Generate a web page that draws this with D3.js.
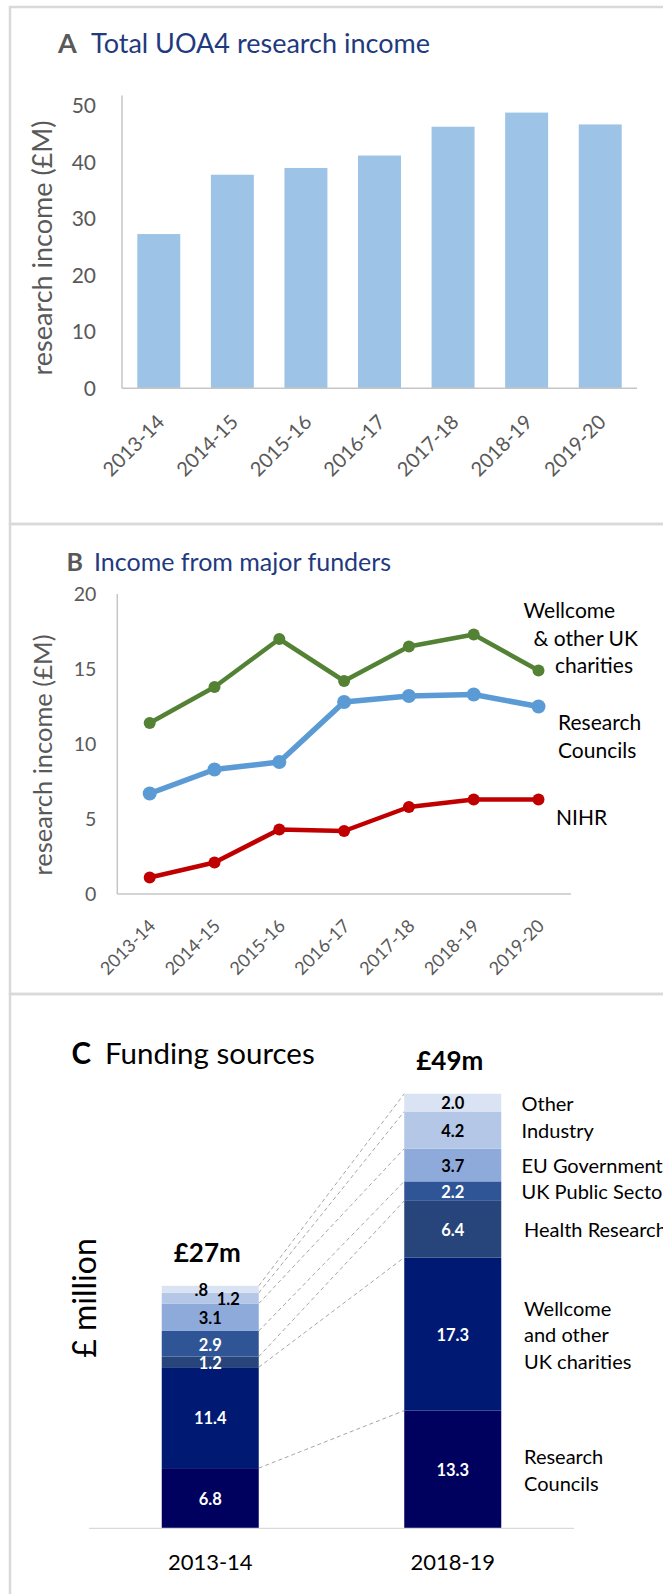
<!DOCTYPE html>
<html>
<head>
<meta charset="utf-8">
<script src="https://cdnjs.cloudflare.com/ajax/libs/d3/7.8.5/d3.min.js"></script>
<style>
  body { margin: 0; background: #fff; }
  svg { display: block; font-family: Lato, "Carlito", Calibri, sans-serif; }
</style>
</head>
<body>
<script>
// ---- data ----
const years = ["2013-14", "2014-15", "2015-16", "2016-17", "2017-18", "2018-19", "2019-20"];

// A: total UOA4 income (£M)
const totalIncome = [27.3, 37.8, 39.0, 41.2, 46.3, 48.8, 46.7];
const ticksA = [0, 10, 20, 30, 40, 50];

// B: income from major funders (£M)
const wellcome = [11.4, 13.8, 17.0, 14.2, 16.5, 17.3, 14.9];
const councils = [6.7, 8.3, 8.8, 12.8, 13.2, 13.3, 12.5];
const nihr = [1.1, 2.1, 4.3, 4.2, 5.8, 6.3, 6.3];
const ticksB = [0, 5, 10, 15, 20];

// C: funding sources, bottom to top
const sources = ["Research Councils", "Wellcome and other UK charities", "Health Research",
  "UK Public Sector", "EU Government", "Industry", "Other"];
const sourceLines = [["Research", "Councils"], ["Wellcome", "and other", "UK charities"],
  ["Health Research"], ["UK Public Sector"], ["EU Government"], ["Industry"], ["Other"]];
const periods = ["2013-14", "2018-19"];
const funding1314 = [6.8, 11.4, 1.2, 2.9, 3.1, 1.2, 0.8];
const funding1819 = [13.3, 17.3, 6.4, 2.2, 3.7, 4.2, 2.0];
const totals = ["£27m", "£49m"];

const W = 663, H = 1594;
const svg = d3.select("body").append("svg")
  .attr("width", W)
  .attr("height", H);

// panel frames
[[7, 517], [524, 470], [994, 640]].forEach(([y, h]) => {
  svg.append("rect")
    .attr("x", 10).attr("y", y)
    .attr("width", 700).attr("height", h)
    .attr("fill", "none")
    .attr("stroke", "#d9d9d9")
    .attr("stroke-width", 2.5);
});

const grey = "#595959";
const axisGrey = "#c6c6c6";

// ================= Panel A =================
const gA = svg.append("g");

const titleA = gA.append("text").attr("y", 53).style("font-size", "27px");
titleA.append("tspan").attr("x", 58).attr("fill", grey).style("font-weight", "bold").text("A");
titleA.append("tspan").attr("x", 91).attr("fill", "#1f3a7e").text("Total UOA4 research income");

const xA = d3.scaleBand()
  .domain(years)
  .range([122, 637])
  .paddingInner(0.416)
  .paddingOuter(0.208);

const yA = d3.scaleLinear()
  .domain([0, 50])
  .range([388.3, 105.8]);

gA.selectAll(".barA")
  .data(totalIncome)
  .enter()
  .append("rect")
  .attr("class", "barA")
  .attr("x", (d, i) => xA(years[i]))
  .attr("y", d => yA(d))
  .attr("width", xA.bandwidth())
  .attr("height", d => yA(0) - yA(d))
  .attr("fill", "#9dc3e6");

// axes lines
gA.append("line")
  .attr("x1", 122).attr("x2", 122)
  .attr("y1", 95.6).attr("y2", yA(0))
  .attr("stroke", axisGrey).attr("stroke-width", 1.5);
gA.append("line")
  .attr("x1", 122).attr("x2", 637)
  .attr("y1", yA(0)).attr("y2", yA(0))
  .attr("stroke", axisGrey).attr("stroke-width", 1.5);

const axA = gA.append("g")
  .attr("transform", "translate(122,0)")
  .call(d3.axisLeft(yA).tickValues(ticksA).tickSize(0).tickPadding(26));
axA.select(".domain").remove();
axA.selectAll("text")
  .attr("fill", grey)
  .style("font-size", "21px")
  .style("font-family", "Lato, sans-serif");

gA.selectAll(".xlabA")
  .data(years)
  .enter()
  .append("text")
  .attr("class", "xlabA")
  .attr("transform", d => `translate(${xA(d) + xA.bandwidth() / 2 + 7},${yA(0) + 35}) rotate(-45)`)
  .attr("text-anchor", "end")
  .attr("fill", grey)
  .style("font-size", "20px")
  .text(d => d);

gA.append("text")
  .attr("transform", "translate(41,248) rotate(-90)")
  .attr("text-anchor", "middle")
  .attr("dominant-baseline", "central")
  .attr("fill", grey)
  .style("font-size", "27px")
  .text("research income (£M)");

// ================= Panel B =================
const gB = svg.append("g");

const titleB = gB.append("text").attr("y", 570.5).style("font-size", "25px");
titleB.append("tspan").attr("x", 66.5).attr("fill", grey).style("font-weight", "bold").text("B");
titleB.append("tspan").attr("x", 94).attr("fill", "#1f3a7e").text("Income from major funders");

const xB = d3.scalePoint()
  .domain(years)
  .range([117.3, 570.9])
  .padding(0.5);

const yB = d3.scaleLinear()
  .domain([0, 20])
  .range([894, 594]);

gB.append("line")
  .attr("x1", 117.3).attr("x2", 117.3)
  .attr("y1", 594).attr("y2", 894)
  .attr("stroke", axisGrey).attr("stroke-width", 1.5);
gB.append("line")
  .attr("x1", 117.3).attr("x2", 570.9)
  .attr("y1", 894).attr("y2", 894)
  .attr("stroke", axisGrey).attr("stroke-width", 1.5);

const axB = gB.append("g")
  .attr("transform", "translate(117.3,0)")
  .call(d3.axisLeft(yB).tickValues(ticksB).tickSize(0).tickPadding(21));
axB.select(".domain").remove();
axB.selectAll("text")
  .attr("fill", grey)
  .style("font-size", "19.5px")
  .style("font-family", "Lato, sans-serif");

gB.selectAll(".xlabB")
  .data(years)
  .enter()
  .append("text")
  .attr("class", "xlabB")
  .attr("transform", d => `translate(${xB(d) + 7},${yB(0) + 33}) rotate(-45)`)
  .attr("text-anchor", "end")
  .attr("fill", grey)
  .style("font-size", "18px")
  .text(d => d);

gB.append("text")
  .attr("transform", "translate(42,755) rotate(-90)")
  .attr("text-anchor", "middle")
  .attr("dominant-baseline", "central")
  .attr("fill", grey)
  .style("font-size", "25.5px")
  .text("research income (£M)");

const series = [
  { values: wellcome, color: "#548235", width: 4.5, r: 6 },
  { values: councils, color: "#5b9bd5", width: 5.5, r: 7 },
  { values: nihr, color: "#c00000", width: 4.5, r: 6 }
];

const line = d3.line()
  .x((d, i) => xB(years[i]))
  .y(d => yB(d));

series.forEach(s => {
  gB.append("path")
    .datum(s.values)
    .attr("d", line)
    .attr("fill", "none")
    .attr("stroke", s.color)
    .attr("stroke-width", s.width)
    .attr("stroke-linejoin", "round");
  gB.selectAll(null)
    .data(s.values)
    .enter()
    .append("circle")
    .attr("cx", (d, i) => xB(years[i]))
    .attr("cy", d => yB(d))
    .attr("r", s.r)
    .attr("fill", s.color);
});

// series labels at the right
const funderLabels = [
  { lines: ["Wellcome", "& other UK", "charities"], x: [523.5, 533.5, 555], y: 618 },
  { lines: ["Research", "Councils"], x: [558, 558], y: 730 },
  { lines: ["NIHR"], x: [556], y: 825 }
];
funderLabels.forEach(lab => {
  lab.lines.forEach((t, j) => {
    gB.append("text")
      .attr("x", lab.x[j])
      .attr("y", lab.y + j * 27.6)
      .attr("fill", "#000")
      .style("font-size", "21px")
      .text(t);
  });
});

// ================= Panel C =================
const gC = svg.append("g");

const titleC = gC.append("text").attr("y", 1064).attr("fill", "#000").style("font-size", "29.5px");
titleC.append("tspan").attr("x", 71.5).style("font-weight", "bold").text("C");
titleC.append("tspan").attr("x", 105).text("Funding sources");

const xC = d3.scaleBand()
  .domain(periods)
  .range([89, 574])
  .paddingInner(0.6)
  .paddingOuter(0.3);

const yC = d3.scaleLinear()
  .domain([0, 50])
  .range([1528.3, 1085.8]);

const sourceColors = ["#00005e", "#001a73", "#27457a", "#2f5597", "#8eaadb", "#b4c7e7", "#dae3f3"];
const darkText = [false, false, false, false, true, true, true];

// build stacked rows
const stackRows = periods.map((p, k) => {
  const vals = k === 0 ? funding1314 : funding1819;
  const row = { period: p };
  sources.forEach((s, i) => { row[s] = vals[i]; });
  return row;
});
const stacked = d3.stack().keys(sources)(stackRows);

// dashed connectors between the two bars (top of each segment)
const leftEdge = xC(periods[0]) + xC.bandwidth();
const rightEdge = xC(periods[1]);
gC.selectAll(".conn")
  .data(stacked)
  .enter()
  .append("line")
  .attr("class", "conn")
  .attr("x1", leftEdge)
  .attr("y1", d => yC(d[0][1]))
  .attr("x2", rightEdge)
  .attr("y2", d => yC(d[1][1]))
  .attr("stroke", "#a6a6a6")
  .attr("stroke-width", 1)
  .attr("stroke-dasharray", "4,3");

const layer = gC.selectAll(".layer")
  .data(stacked)
  .enter()
  .append("g")
  .attr("class", "layer")
  .attr("fill", (d, i) => sourceColors[i]);

layer.selectAll("rect")
  .data(d => d)
  .enter()
  .append("rect")
  .attr("x", d => xC(d.data.period))
  .attr("y", d => yC(d[1]))
  .attr("width", xC.bandwidth())
  .attr("height", d => yC(d[0]) - yC(d[1]));

// value labels in segments; the two thin top ones on the left are nudged sideways
const fmt = v => (v < 1 ? d3.format(".1f")(v).replace(/^0/, "") : d3.format(".1f")(v));
const nudge = { "2013-14|Industry": 18, "2013-14|Other": -9 };

stacked.forEach((layerData, i) => {
  layerData.forEach(d => {
    const key = d.data.period + "|" + sources[i];
    gC.append("text")
      .attr("x", xC(d.data.period) + xC.bandwidth() / 2 + (nudge[key] || 0))
      .attr("y", (yC(d[0]) + yC(d[1])) / 2 + 0.8)
      .attr("text-anchor", "middle")
      .attr("dominant-baseline", "central")
      .attr("fill", darkText[i] ? "#000" : "#fff")
      .style("font-size", "16.5px")
      .style("font-weight", "bold")
      .text(fmt(d[1] - d[0]));
  });
});

// totals above bars
const topLayer = stacked[stacked.length - 1];
gC.selectAll(".total")
  .data(totals)
  .enter()
  .append("text")
  .attr("class", "total")
  .attr("x", (d, k) => xC(periods[k]) + xC.bandwidth() / 2 - 3)
  .attr("y", (d, k) => yC(topLayer[k][1]) - 24)
  .attr("text-anchor", "middle")
  .attr("fill", "#000")
  .style("font-size", "26px")
  .style("font-weight", "bold")
  .text(d => d);

// baseline
gC.append("line")
  .attr("x1", 89).attr("x2", 574)
  .attr("y1", yC(0)).attr("y2", yC(0))
  .attr("stroke", "#d9d9d9").attr("stroke-width", 1.2);

// period labels
gC.selectAll(".plab")
  .data(periods)
  .enter()
  .append("text")
  .attr("class", "plab")
  .attr("x", d => xC(d) + xC.bandwidth() / 2)
  .attr("y", 1570)
  .attr("text-anchor", "middle")
  .attr("fill", "#000")
  .style("font-size", "22px")
  .text(d => d);

// source legend next to the right bar (the long ones run off the edge, as in the original)
const rightBar = stacked.map(l => l[1]);
sourceLines.forEach((lines, i) => {
  const seg = rightBar[i];
  const cy = (yC(seg[0]) + yC(seg[1])) / 2;
  const lh = 26.5;
  lines.forEach((t, j) => {
    gC.append("text")
      .attr("x", i <= 2 ? 524 : 521.5)
      .attr("y", cy + (j - (lines.length - 1) / 2) * lh)
      .attr("dominant-baseline", "central")
      .attr("fill", "#000")
      .style("font-size", "20px")
      .text(t);
  });
});

gC.append("text")
  .attr("transform", "translate(83,1298) rotate(-90)")
  .attr("text-anchor", "middle")
  .attr("dominant-baseline", "central")
  .attr("fill", "#000")
  .style("font-size", "32px")
  .text("£ million");
</script>
</body>
</html>
